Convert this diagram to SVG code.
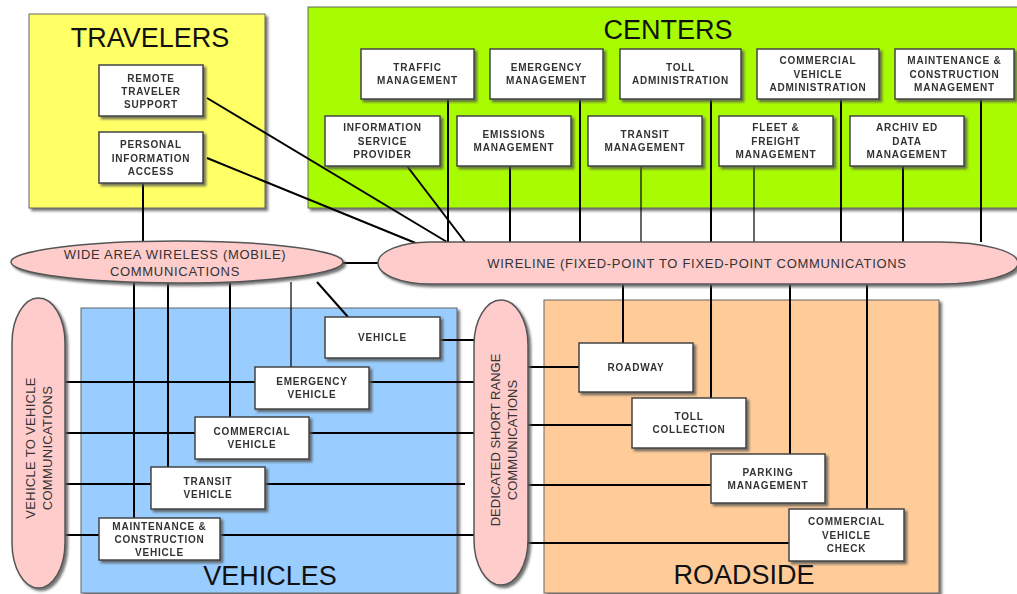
<svg xmlns="http://www.w3.org/2000/svg" width="1017" height="594" viewBox="0 0 1017 594">
<defs>
<style>
.cont{stroke:#666;stroke-width:1}
.box{fill:#fff;stroke:#444;stroke-width:1.5}
.comm{fill:#FFCCCC;stroke:#555;stroke-width:1.5}
.lbl{font-family:"Liberation Sans",Arial,sans-serif;font-size:10px;font-weight:bold;fill:#333;letter-spacing:0.8px;text-anchor:middle}
.title{font-family:"Liberation Sans",Arial,sans-serif;font-size:27px;fill:#111;text-anchor:middle}
.ctxt{font-family:"Liberation Sans",Arial,sans-serif;font-size:13px;fill:#333;text-anchor:middle}
.ln{stroke:#000;stroke-width:2;fill:none}
.thin{stroke-width:1.2}
</style>
<filter id="sh" x="-10%" y="-10%" width="130%" height="140%">
<feDropShadow dx="2.5" dy="2.5" stdDeviation="1" flood-color="#555" flood-opacity="0.8"/>
</filter>
</defs>

<g id="travelers">
<rect class="cont" x="29" y="14" width="236" height="194" fill="#FFFF66" filter="url(#sh)"/>
<text class="title" x="150" y="47">TRAVELERS</text>
</g>
<g id="centers">
<rect class="cont" x="308" y="7" width="720" height="201" fill="#A8FB00" filter="url(#sh)"/>
<text class="title" x="668" y="39">CENTERS</text>
</g>
<g id="vehicles">
<rect class="cont" x="81" y="308" width="376" height="285" fill="#99CCFF" filter="url(#sh)"/>
<text class="title" x="270" y="585">VEHICLES</text>
</g>
<g id="roadside">
<rect class="cont" x="544" y="300" width="395" height="293" fill="#FFCC99" filter="url(#sh)"/>
<text class="title" x="744" y="584">ROADSIDE</text>
</g>

<g id="connectors">
<path class="ln" d="M207,98 L447,242"/>
<path class="ln" d="M207,158 L418,244"/>
<path class="ln" d="M143,183 V243"/>
<path class="ln" d="M448,99 V242"/>
<path class="ln" d="M580,99 V242"/>
<path class="ln" d="M711,99 V242"/>
<path class="ln" d="M841,99 V242"/>
<path class="ln" d="M981,99 V242"/>
<path class="ln" d="M510,166 V242"/>
<path class="ln thin" d="M641,166 V242"/>
<path class="ln thin" d="M754,166 V242"/>
<path class="ln" d="M903,166 V242"/>
<path class="ln" d="M407,166 L465,242"/>
<path class="ln" d="M343,263 H380"/>
<path class="ln" d="M623,284 V343"/>
<path class="ln" d="M711,284 V398"/>
<path class="ln" d="M790,284 V454"/>
<path class="ln" d="M867,284 V509"/>
<path class="ln" d="M134,282 V518"/>
<path class="ln" d="M168,282 V467"/>
<path class="ln" d="M230,283 V417"/>
<path class="ln thin" d="M291,282 V367"/>
<path class="ln" d="M317,282 L348,317"/>
<path class="ln" d="M65,382 H474"/>
<path class="ln" d="M65,433 H474"/>
<path class="ln" d="M65,484 H465"/>
<path class="ln" d="M65,535 H474"/>
<path class="ln" d="M440,340 H474"/>
<path class="ln" d="M528,367 H579"/>
<path class="ln" d="M528,425 H632"/>
<path class="ln" d="M528,485 H711"/>
<path class="ln" d="M528,543 H789"/>
</g>

<g id="wide-area-wireless">
<ellipse class="comm" cx="177" cy="262" rx="166" ry="21" filter="url(#sh)"/>
<text class="ctxt" x="175" y="259" style="letter-spacing:0.7px">WIDE AREA WIRELESS (MOBILE)</text>
<text class="ctxt" x="175" y="276" style="letter-spacing:0.7px">COMMUNICATIONS</text>
</g>
<g id="wireline">
<path class="comm" d="M430,242 L940,242 A78,21 0 0 1 940,284 L430,284 A52,21 0 0 1 430,242 Z" filter="url(#sh)"/>
<text class="ctxt" x="697" y="268" style="letter-spacing:0.7px">WIRELINE (FIXED-POINT TO FIXED-POINT COMMUNICATIONS</text>
</g>
<g id="vehicle-to-vehicle">
<rect class="comm" x="12" y="298" width="53" height="290" rx="26.5" ry="45" filter="url(#sh)"/>
<g transform="translate(35,448) rotate(-90)">
<text class="ctxt" x="0" y="0" style="letter-spacing:0.3px">VEHICLE TO VEHICLE</text>
<text class="ctxt" x="0" y="17" style="letter-spacing:0.3px">COMMUNICATIONS</text>
</g>
</g>
<g id="dsrc">
<rect class="comm" x="474" y="300" width="54" height="285" rx="27" ry="45" filter="url(#sh)"/>
<g transform="translate(500,440) rotate(-90)">
<text class="ctxt" x="0" y="0">DEDICATED SHORT RANGE</text>
<text class="ctxt" x="0" y="17">COMMUNICATIONS</text>
</g>
</g>

<g id="remote-traveler-support" filter="url(#sh)">
<rect class="box" x="99" y="65" width="104" height="51"/>
<text class="lbl" x="151" y="81.5">REMOTE</text>
<text class="lbl" x="151" y="94.5">TRAVELER</text>
<text class="lbl" x="151" y="107.5">SUPPORT</text>
</g>
<g id="personal-information-access" filter="url(#sh)">
<rect class="box" x="99" y="132" width="104" height="51"/>
<text class="lbl" x="151" y="148">PERSONAL</text>
<text class="lbl" x="151" y="161.5">INFORMATION</text>
<text class="lbl" x="151" y="175">ACCESS</text>
</g>

<g id="traffic-management" filter="url(#sh)">
<rect class="box" x="361" y="49" width="113" height="50"/>
<text class="lbl" x="417.5" y="71">TRAFFIC</text>
<text class="lbl" x="417.5" y="84">MANAGEMENT</text>
</g>
<g id="emergency-management" filter="url(#sh)">
<rect class="box" x="490" y="49" width="113" height="50"/>
<text class="lbl" x="546.5" y="71">EMERGENCY</text>
<text class="lbl" x="546.5" y="84">MANAGEMENT</text>
</g>
<g id="toll-administration" filter="url(#sh)">
<rect class="box" x="620" y="49" width="121" height="50"/>
<text class="lbl" x="680.5" y="71">TOLL</text>
<text class="lbl" x="680.5" y="84">ADMINISTRATION</text>
</g>
<g id="commercial-vehicle-administration" filter="url(#sh)">
<rect class="box" x="757" y="49" width="122" height="50"/>
<text class="lbl" x="818" y="64">COMMERCIAL</text>
<text class="lbl" x="818" y="77.5">VEHICLE</text>
<text class="lbl" x="818" y="91">ADMINISTRATION</text>
</g>
<g id="maintenance-construction-management" filter="url(#sh)">
<rect class="box" x="895" y="49" width="119" height="50"/>
<text class="lbl" x="954.5" y="64">MAINTENANCE &amp;</text>
<text class="lbl" x="954.5" y="77.5">CONSTRUCTION</text>
<text class="lbl" x="954.5" y="91">MANAGEMENT</text>
</g>
<g id="information-service-provider" filter="url(#sh)">
<rect class="box" x="325" y="116" width="115" height="50"/>
<text class="lbl" x="382.5" y="131">INFORMATION</text>
<text class="lbl" x="382.5" y="144.5">SERVICE</text>
<text class="lbl" x="382.5" y="158">PROVIDER</text>
</g>
<g id="emissions-management" filter="url(#sh)">
<rect class="box" x="457" y="116" width="114" height="50"/>
<text class="lbl" x="514" y="138">EMISSIONS</text>
<text class="lbl" x="514" y="151">MANAGEMENT</text>
</g>
<g id="transit-management" filter="url(#sh)">
<rect class="box" x="588" y="116" width="114" height="50"/>
<text class="lbl" x="645" y="138">TRANSIT</text>
<text class="lbl" x="645" y="151">MANAGEMENT</text>
</g>
<g id="fleet-freight-management" filter="url(#sh)">
<rect class="box" x="719" y="116" width="114" height="50"/>
<text class="lbl" x="776" y="131">FLEET &amp;</text>
<text class="lbl" x="776" y="144.5">FREIGHT</text>
<text class="lbl" x="776" y="158">MANAGEMENT</text>
</g>
<g id="archived-data-management" filter="url(#sh)">
<rect class="box" x="850" y="116" width="114" height="50"/>
<text class="lbl" x="907" y="131">ARCHIV ED</text>
<text class="lbl" x="907" y="144.5">DATA</text>
<text class="lbl" x="907" y="158">MANAGEMENT</text>
</g>

<g id="vehicle" filter="url(#sh)">
<rect class="box" x="325" y="317" width="115" height="41"/>
<text class="lbl" x="382.5" y="341">VEHICLE</text>
</g>
<g id="emergency-vehicle" filter="url(#sh)">
<rect class="box" x="255" y="367" width="114" height="42"/>
<text class="lbl" x="312" y="385">EMERGENCY</text>
<text class="lbl" x="312" y="398">VEHICLE</text>
</g>
<g id="commercial-vehicle" filter="url(#sh)">
<rect class="box" x="195" y="417" width="114" height="42"/>
<text class="lbl" x="252" y="435">COMMERCIAL</text>
<text class="lbl" x="252" y="448">VEHICLE</text>
</g>
<g id="transit-vehicle" filter="url(#sh)">
<rect class="box" x="151" y="467" width="114" height="42"/>
<text class="lbl" x="208" y="485">TRANSIT</text>
<text class="lbl" x="208" y="498">VEHICLE</text>
</g>
<g id="maintenance-construction-vehicle" filter="url(#sh)">
<rect class="box" x="99" y="518" width="121" height="42"/>
<text class="lbl" x="159.5" y="529.5">MAINTENANCE &amp;</text>
<text class="lbl" x="159.5" y="542.5">CONSTRUCTION</text>
<text class="lbl" x="159.5" y="555.5">VEHICLE</text>
</g>

<g id="roadway" filter="url(#sh)">
<rect class="box" x="579" y="343" width="114" height="49"/>
<text class="lbl" x="636" y="371">ROADWAY</text>
</g>
<g id="toll-collection" filter="url(#sh)">
<rect class="box" x="632" y="398" width="114" height="50"/>
<text class="lbl" x="689" y="420">TOLL</text>
<text class="lbl" x="689" y="433">COLLECTION</text>
</g>
<g id="parking-management" filter="url(#sh)">
<rect class="box" x="711" y="454" width="114" height="49"/>
<text class="lbl" x="768" y="475.5">PARKING</text>
<text class="lbl" x="768" y="489">MANAGEMENT</text>
</g>
<g id="commercial-vehicle-check" filter="url(#sh)">
<rect class="box" x="789" y="509" width="115" height="52"/>
<text class="lbl" x="846.5" y="525">COMMERCIAL</text>
<text class="lbl" x="846.5" y="538.5">VEHICLE</text>
<text class="lbl" x="846.5" y="552">CHECK</text>
</g>
</svg>
